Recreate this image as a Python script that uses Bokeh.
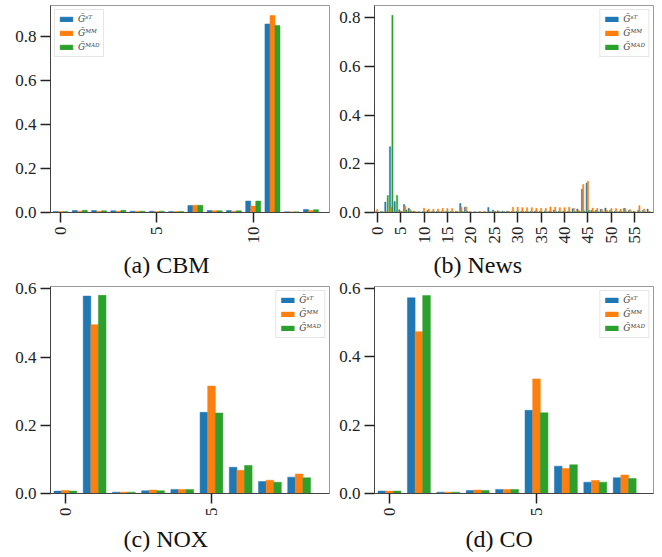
import math
from bokeh.plotting import figure
from bokeh.models import FixedTicker, PrintfTickFormatter, Title, Range1d
from bokeh.layouts import column, row
from bokeh.embed import file_html
from bokeh.resources import INLINE

series_labels = ["Ḡˢᵀ", "Ḡᴹᴹ", "Ḡᴹᴬᴰ"]
colors = ["#1f77b4", "#ff7f0e", "#2ca02c"]

# (a) CBM, groups 0..13
cbm_st = [0.004, 0.009, 0.009, 0.008, 0.006, 0.006, 0.004, 0.032, 0.009, 0.009, 0.052, 0.856, 0.003, 0.014]
cbm_mm = [0.004, 0.006, 0.006, 0.006, 0.006, 0.004, 0.004, 0.033, 0.008, 0.006, 0.029, 0.895, 0.003, 0.009]
cbm_mad = [0.004, 0.010, 0.008, 0.010, 0.006, 0.006, 0.005, 0.033, 0.008, 0.008, 0.052, 0.849, 0.003, 0.013]

# (b) News, groups 0..58
news_st = [0.003, 0.004, 0.043, 0.270, 0.045, 0.011, 0.033, 0.017, 0.005, 0.003,
           0.004, 0.008, 0.004, 0.004, 0.004, 0.005, 0.004, 0.004, 0.037, 0.022,
           0.003, 0.003, 0.003, 0.003, 0.021, 0.010, 0.007, 0.005, 0.005, 0.004,
           0.004, 0.004, 0.004, 0.004, 0.006, 0.005, 0.005, 0.005, 0.010, 0.005,
           0.005, 0.005, 0.015, 0.014, 0.095, 0.121, 0.008, 0.010, 0.013, 0.018,
           0.008, 0.005, 0.005, 0.017, 0.008, 0.005, 0.009, 0.008, 0.014]
news_mm = [0.012, 0.003, 0.004, 0.022, 0.006, 0.005, 0.026, 0.013, 0.005, 0.004,
           0.018, 0.014, 0.013, 0.014, 0.017, 0.016, 0.016, 0.005, 0.022, 0.023,
           0.003, 0.003, 0.004, 0.004, 0.005, 0.005, 0.004, 0.004, 0.005, 0.022,
           0.022, 0.020, 0.020, 0.020, 0.017, 0.017, 0.017, 0.023, 0.022, 0.020,
           0.020, 0.022, 0.017, 0.008, 0.115, 0.128, 0.018, 0.017, 0.013, 0.010,
           0.016, 0.016, 0.014, 0.016, 0.012, 0.004, 0.028, 0.014, 0.005]
news_mad = [0.002, 0.003, 0.070, 0.810, 0.070, 0.004, 0.010, 0.006, 0.003, 0.002,
            0.003, 0.003, 0.003, 0.003, 0.003, 0.003, 0.003, 0.003, 0.004, 0.006,
            0.002, 0.002, 0.002, 0.002, 0.003, 0.004, 0.003, 0.003, 0.003, 0.003,
            0.003, 0.003, 0.003, 0.003, 0.003, 0.003, 0.003, 0.003, 0.003, 0.003,
            0.003, 0.003, 0.004, 0.004, 0.006, 0.008, 0.004, 0.003, 0.003, 0.003,
            0.003, 0.003, 0.003, 0.003, 0.003, 0.002, 0.003, 0.003, 0.003]

# (c) NOX, groups 0..8
nox_st = [0.007, 0.579, 0.004, 0.008, 0.012, 0.238, 0.077, 0.035, 0.048]
nox_mm = [0.009, 0.495, 0.004, 0.010, 0.012, 0.315, 0.068, 0.039, 0.057]
nox_mad = [0.007, 0.581, 0.004, 0.008, 0.012, 0.236, 0.082, 0.033, 0.046]

# (d) CO, groups 0..8
co_st = [0.007, 0.572, 0.004, 0.009, 0.012, 0.243, 0.080, 0.033, 0.046]
co_mm = [0.007, 0.473, 0.004, 0.010, 0.012, 0.335, 0.073, 0.038, 0.054]
co_mad = [0.007, 0.579, 0.004, 0.009, 0.012, 0.236, 0.084, 0.033, 0.044]

captions = ["(a) CBM", "(b) News", "(c) NOX", "(d) CO"]
cbm_xticks = [0, 5, 10]
news_xticks = [0, 5, 10, 15, 20, 25, 30, 35, 40, 45, 50, 55]
sensor_xticks = [0, 5]
yticks_big = [0.0, 0.2, 0.4, 0.6, 0.8]
yticks_small = [0.0, 0.2, 0.4, 0.6]

SERIF = "Liberation Serif"


def panel(vals, caption, width, height, xr, yr, xticks, yticks, legend_loc,
          bl, br, bt, bb, cap_offset, cap_standoff):
    p = figure(width=width, height=height, output_backend="svg",
               toolbar_location=None, x_range=Range1d(*xr), y_range=Range1d(*yr),
               min_border_left=bl, min_border_right=br, min_border_top=bt,
               min_border_bottom=bb)
    n = len(vals[0])
    w = 0.26
    for k, (v, c, lab) in enumerate(zip(vals, colors, series_labels)):
        xs = [i + (k - 1) * w for i in range(n)]
        p.vbar(x=xs, top=v, width=w, fill_color=c, line_color=c, line_width=0.5,
               legend_label=lab)
    p.xgrid.visible = False
    p.ygrid.visible = False
    p.outline_line_color = "#9a9a9a"
    p.outline_line_width = 1
    p.xaxis.ticker = FixedTicker(ticks=xticks)
    p.yaxis.ticker = FixedTicker(ticks=yticks)
    p.yaxis.formatter = PrintfTickFormatter(format="%.1f")
    p.xaxis.major_label_orientation = math.pi / 2
    for ax in (p.xaxis[0], p.yaxis[0]):
        ax.major_tick_out = 10
        ax.major_tick_in = 0
        ax.minor_tick_line_color = None
        ax.major_tick_line_width = 1.5
        ax.major_tick_line_color = "#222222"
        ax.axis_line_color = "#444444"
        ax.axis_line_width = 1
        ax.major_label_text_font = SERIF
        ax.major_label_text_font_size = "17px"
        ax.major_label_text_color = "#222222"
        ax.major_label_standoff = 4
    lg = p.legend[0]
    lg.location = legend_loc
    lg.margin = 4
    lg.padding = 3
    lg.spacing = 2
    lg.glyph_width = 16
    lg.glyph_height = 6
    lg.label_height = 12
    lg.label_standoff = 4
    lg.label_text_font = "DejaVu Serif"
    lg.label_text_font_style = "italic"
    lg.label_text_font_size = "9px"
    lg.border_line_color = "#cccccc"
    lg.background_fill_alpha = 0.85
    t = Title(text=caption, align="left", offset=cap_offset,
              text_font=SERIF, text_font_size="24px", text_font_style="normal",
              text_color="#111111", standoff=cap_standoff)
    p.add_layout(t, "below")
    return p


pa = panel([cbm_st, cbm_mm, cbm_mad], captions[0], 331, 280, (-0.52, 13.96), (0, 0.94),
           cbm_xticks, yticks_big, "top_left", 50, 2, 5, 68, 73, 6)
pb = panel([news_st, news_mm, news_mad], captions[1], 331, 280, (-0.57, 59.0), (0, 0.85),
           news_xticks, yticks_big, "top_right", 43, 9, 5, 68, 59, 6)
pc = panel([nox_st, nox_mm, nox_mad], captions[2], 331, 277, (-0.51, 9.04), (0, 0.607),
           sensor_xticks, yticks_small, "top_right", 50, 2, 6, 64, 73, 9)
pd = panel([co_st, co_mm, co_mad], captions[3], 331, 277, (-0.51, 8.98), (0, 0.605),
           sensor_xticks, yticks_small, "top_right", 43, 9, 6, 64, 91, 9)

layout = column(row(pa, pb), row(pc, pd))
open("out.html", "w").write(file_html(layout, INLINE))
